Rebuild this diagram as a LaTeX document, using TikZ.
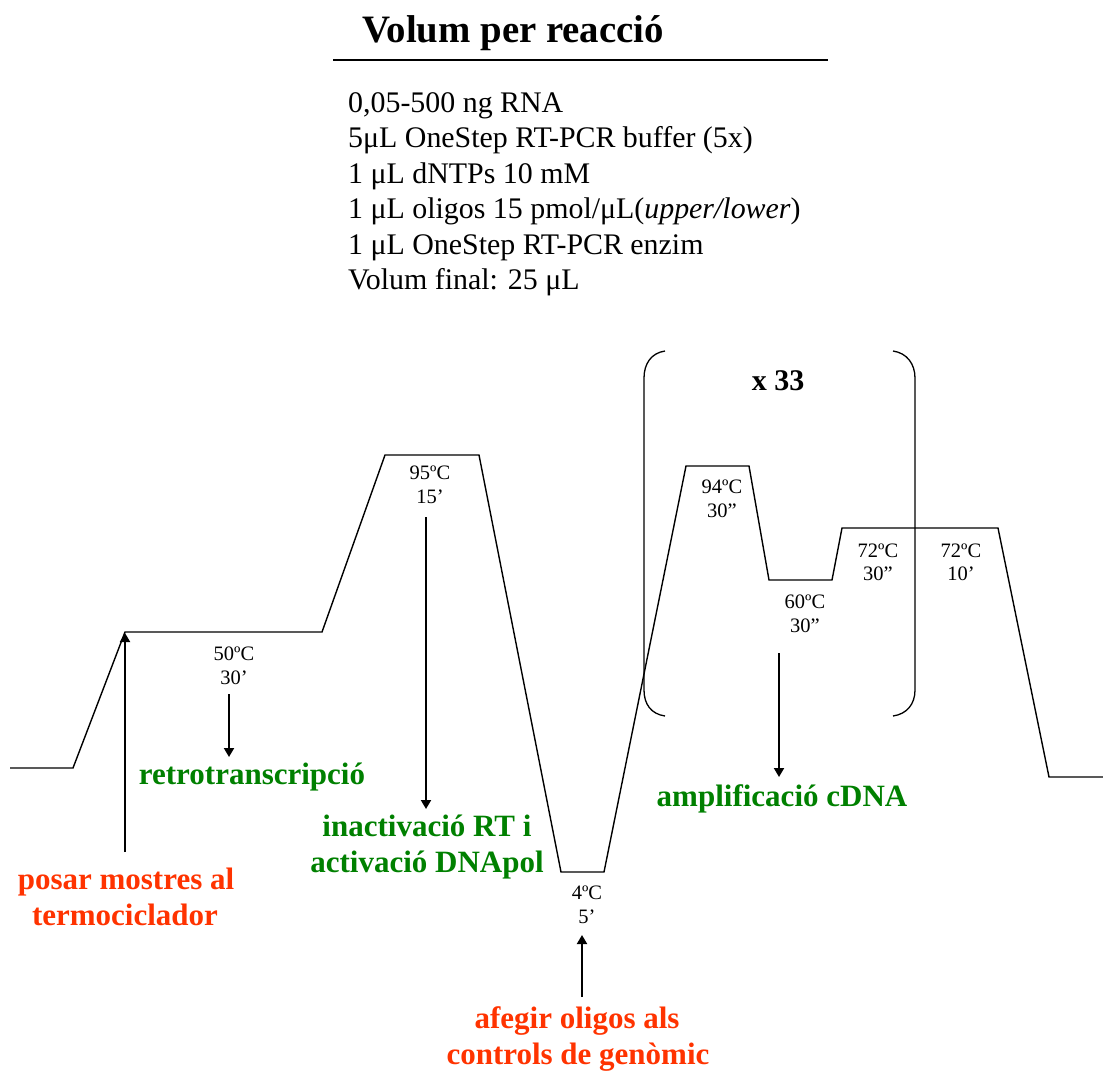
\documentclass[tikz,border=0pt]{standalone}
\usepackage{fontspec}
\setmainfont{Liberation Serif}
\usetikzlibrary{arrows.meta}
\definecolor{labgreen}{RGB}{0,128,0}
\definecolor{labred}{RGB}{255,51,0}
\tikzset{
  profile/.style={line width=1.4pt, line join=miter},
  bracketline/.style={line width=1.3pt},
  pointer/.style={line width=1.9pt, -{Triangle[length=9pt,width=10pt]}},
  small/.style={inner sep=0pt, anchor=base, font=\fontsize{20.5}{24}\selectfont},
  body/.style={inner sep=0pt, anchor=base west, font=\fontsize{29.9}{35}\selectfont},
  greenlab/.style={inner sep=0pt, anchor=base, text=labgreen, font=\fontsize{31}{36}\selectfont\bfseries},
  redlab/.style={inner sep=0pt, anchor=base, text=labred, font=\fontsize{31}{36}\selectfont\bfseries},
}
\begin{document}
\begin{tikzpicture}[x=1pt,y=-1pt]
\useasboundingbox (0,0) rectangle (1103,1072);
% title and recipe
\node[inner sep=0pt, anchor=base west, font=\fontsize{38.8}{44}\selectfont\bfseries] (title) at (362,42) {Volum per reacció};
\draw[line width=1.5pt] (333,60) -- (828,60);
\node[body] (r1) at (348,112) {0,05-500 ng RNA};
\node[body] (r2) at (348,147.5) {5μL OneStep RT-PCR buffer (5x)};
\node[body] (r3) at (348,183) {1 μL dNTPs 10 mM};
\node[body] (r4) at (348,218.5) {1 μL oligos 15 pmol/μL(\textit{upper/lower})};
\node[body] (r5) at (348,254) {1 μL OneStep RT-PCR enzim};
\node[body] (r6) at (348,289.5) {Volum final: 25 μL};
% temperature profile
\draw[profile] (10,768) -- (73,768) -- (125,632) -- (322,632) -- (385,455) -- (479,455)
  -- (561,872) -- (604,872) -- (686,466) -- (749,466) -- (769,580) -- (832,580)
  -- (842,528) -- (998,528) -- (1049,777) -- (1103,777);
% cycle brackets
\draw[bracketline] (665,351) .. controls (651,353) and (644,364) .. (644,378) -- (644,690)
  .. controls (644,704) and (651,714) .. (665,716);
\draw[bracketline] (893,351) .. controls (907,353) and (915,364) .. (915,378) -- (915,690)
  .. controls (915,704) and (907,714) .. (893,716);
\node[inner sep=0pt, anchor=base, font=\fontsize{30}{34}\selectfont\bfseries] (cyc) at (778,390) {x 33};
% step labels
\node[small] (t95) at (430,479) {95ºC};
\node[small] (d95) at (430,503) {15’};
\node[small] (t50) at (234,660) {50ºC};
\node[small] (d50) at (234,684) {30’};
\node[small] (t94) at (722,493) {94ºC};
\node[small] (d94) at (722,517) {30”};
\node[small] (t60) at (805,608) {60ºC};
\node[small] (d60) at (805,632) {30”};
\node[small] (t72a) at (878,557) {72ºC};
\node[small] (d72a) at (878,580) {30”};
\node[small] (t72b) at (961,557) {72ºC};
\node[small] (d72b) at (961,580) {10’};
\node[small] (t4) at (587,899) {4ºC};
\node[small] (d4) at (587,923) {5’};
% descriptions
\node[greenlab] (retro) at (252,784) {retrotranscripció};
\node[greenlab] (inact1) at (427,836) {inactivació RT i};
\node[greenlab] (inact2) at (427,872) {activació DNApol};
\node[greenlab] (ampl) at (782,806) {amplificació cDNA};
\node[redlab] (posar1) at (126,889) {posar mostres al};
\node[redlab] (posar2) at (125,925) {termociclador};
\node[redlab] (afeg1) at (577,1028) {afegir oligos als};
\node[redlab] (afeg2) at (578,1064) {controls de genòmic};
% arrows
\coordinate (a1s) at (125,852); \coordinate (a1e) at (125,633);
\coordinate (a2s) at (229,694); \coordinate (a2e) at (229,757);
\coordinate (a3s) at (426,517); \coordinate (a3e) at (426,809);
\coordinate (a4s) at (779,653); \coordinate (a4e) at (779,777);
\coordinate (a5s) at (582,997); \coordinate (a5e) at (582,935);
\draw[pointer] (a1s) -- (a1e);
\draw[pointer] (a2s) -- (a2e);
\draw[pointer] (a3s) -- (a3e);
\draw[pointer] (a4s) -- (a4e);
\draw[pointer] (a5s) -- (a5e);
\end{tikzpicture}
\end{document}
